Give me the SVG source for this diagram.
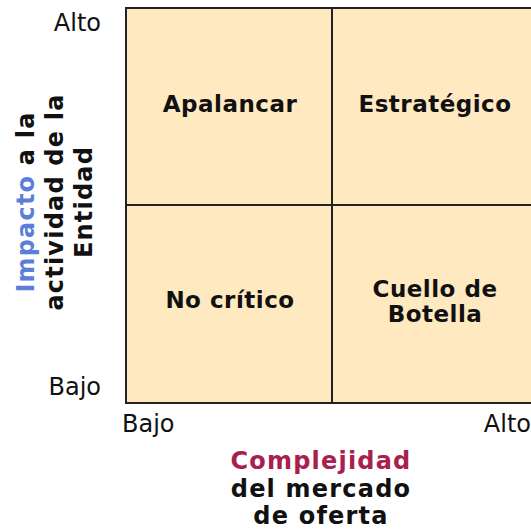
<svg xmlns="http://www.w3.org/2000/svg" width="531" height="531" viewBox="0 0 531 531">
<style>
.cell{fill:#FFE9C1;stroke:none}
.ln{stroke:#222;stroke-width:2;fill:none}
.q{font-family:"DejaVu Sans",Verdana,sans-serif;font-weight:bold;font-size:23px;fill:#111;text-anchor:middle;letter-spacing:0.5px}
.ax{font-family:"DejaVu Sans",Verdana,sans-serif;font-size:24px;fill:#111}
.lab{font-family:"DejaVu Sans",Verdana,sans-serif;font-weight:bold;font-size:24px;fill:#111;text-anchor:middle;letter-spacing:1.2px}
</style>
<rect width="531" height="531" fill="#fff"/>
<g id="grid">
<rect class="cell" x="126" y="8" width="412" height="395"/>
<path class="ln" d="M538 8H126V403H538"/>
<path class="ln" d="M332 8V403M126 205H538"/>
</g>
<g id="apalancar"><text class="q" x="230" y="112">Apalancar</text></g>
<g id="estrategico"><text class="q" x="435" y="112">Estratégico</text></g>
<g id="nocritico"><text class="q" x="230" y="308">No crítico</text></g>
<g id="cuello"><text class="q" x="435" y="297">Cuello de</text><text class="q" x="435" y="322">Botella</text></g>
<g id="yaxis">
<text class="ax" x="101" y="31" text-anchor="end">Alto</text>
<text class="ax" x="101" y="395" text-anchor="end">Bajo</text>
<g transform="translate(0,202) rotate(-90)">
<text class="lab" x="0" y="34"><tspan fill="#5B7FD9">Impacto</tspan> a la</text>
<text class="lab" x="0" y="63">actividad de la</text>
<text class="lab" x="0" y="92">Entidad</text>
</g>
</g>
<g id="xaxis">
<text class="ax" x="122" y="432">Bajo</text>
<text class="ax" x="531" y="432" text-anchor="end">Alto</text>
<text class="lab" x="321" y="469" style="fill:#A8204E">Complejidad</text>
<text class="lab" x="321" y="497">del mercado</text>
<text class="lab" x="321" y="524">de oferta</text>
</g>
<g id="connectors"/>
</svg>
